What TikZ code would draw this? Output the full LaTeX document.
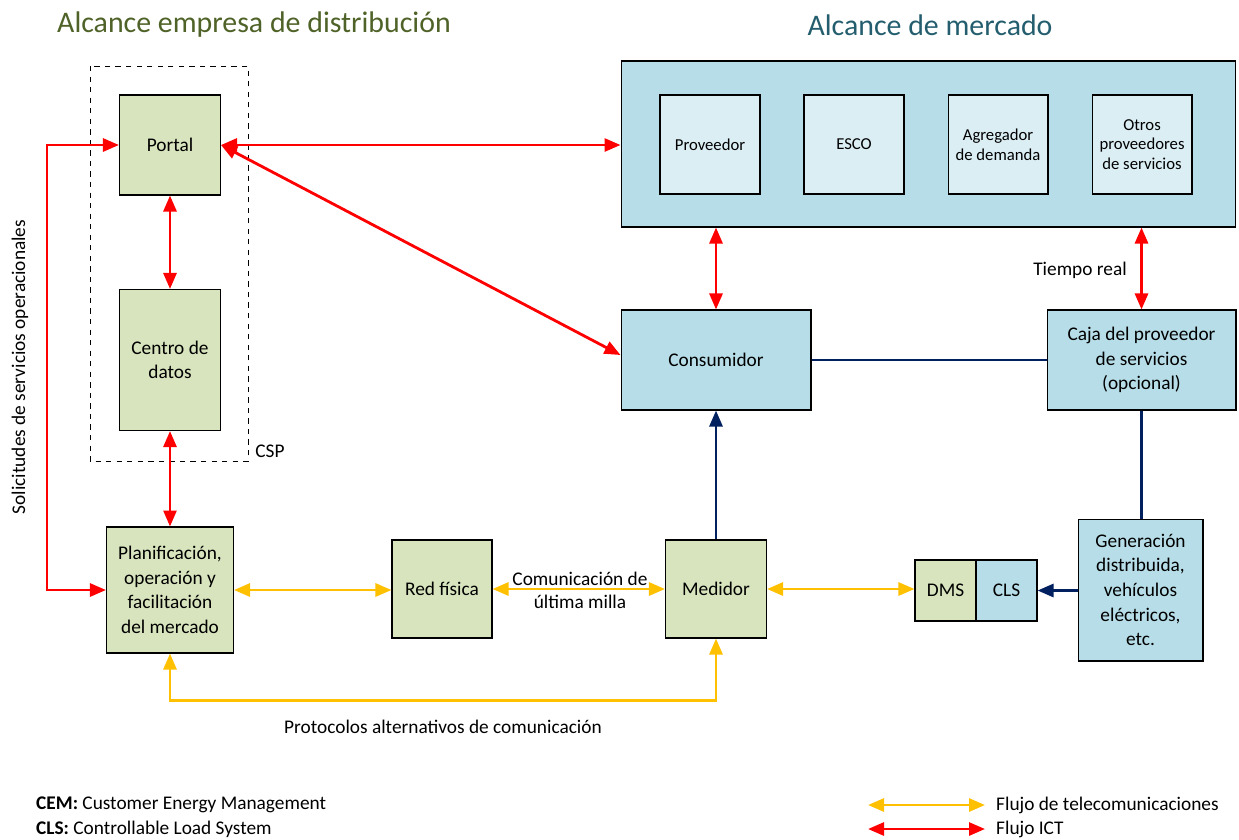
\documentclass[tikz,border=0pt]{standalone}
\usepackage{fontspec}
\setmainfont{Carlito}
\usetikzlibrary{arrows.meta}

\definecolor{boxgreen}{RGB}{215,228,189}
\definecolor{boxblue}{RGB}{183,222,232}
\definecolor{boxpale}{RGB}{219,238,244}
\definecolor{ictred}{RGB}{255,0,0}
\definecolor{teleyellow}{RGB}{255,192,0}
\definecolor{linknavy}{RGB}{0,32,96}
\definecolor{titleolive}{RGB}{79,98,40}
\definecolor{titleteal}{RGB}{36,94,110}

\begin{document}
\begin{tikzpicture}
	[x=0.02cm, y=-0.02cm,
	box/.style={draw=black, line width=0.6pt, align=center, inner sep=2pt,
		font=\fontsize{11}{14}\selectfont},
	green/.style={box, fill=boxgreen},
	blue/.style={box, fill=boxblue},
	pale/.style={box, fill=boxpale, font=\fontsize{9.5}{11.3}\selectfont},
	label/.style={align=center, font=\fontsize{11}{13}\selectfont},
	ict/.style={{Triangle[length=0.32cm,width=0.26cm]}-{Triangle[length=0.32cm,width=0.26cm]}, ictred, line width=1.6pt},
	tele/.style={{Triangle[length=0.32cm,width=0.26cm]}-{Triangle[length=0.32cm,width=0.26cm]}, teleyellow, line width=1.6pt},
	link/.style={linknavy, line width=1.6pt},
	title/.style={font=\fontsize{17}{20}\selectfont}]

	\useasboundingbox (0,0) rectangle (1239,839);

	% Titles
	\node[title, text=titleolive] (tdist) at (254,25) {Alcance empresa de distribución};
	\node[title, text=titleteal] (tmerc) at (930,25) {Alcance de mercado};

	% CSP frame
	\draw[dashed, line width=0.5pt] (90,66) rectangle (248,461);
	\node[label] (csp) at (270,451) {CSP};

	% Utility side
	\node[green, minimum width=2.02cm, minimum height=2.0cm] (Portal) at (170,145) {Portal};
	\node[green, minimum width=2.02cm, minimum height=2.82cm] (Centro) at (170,360) {Centro de\\datos};
	\node[green, minimum width=2.54cm, minimum height=2.52cm] (Plan) at (170,590)
		{Planificación,\\operación y\\facilitación\\del mercado};
	\node[green, minimum width=2.0cm, minimum height=1.96cm] (Red) at (442,589) {Red física};
	\node[green, minimum width=2.02cm, minimum height=1.96cm] (Medidor) at (716,589) {Medidor};

	% Market side
	\node[blue, minimum width=12.3cm, minimum height=3.32cm] (Mercado) at (928.5,144) {};
	\node[pale, minimum width=2.0cm, minimum height=1.98cm] (Proveedor) at (710,144.5) {Proveedor};
	\node[pale, minimum width=2.0cm, minimum height=1.98cm] (ESCO) at (854,144.5) {ESCO};
	\node[pale, minimum width=2.0cm, minimum height=1.98cm] (Agregador) at (998,144.5) {Agregador\\de demanda};
	\node[pale, minimum width=2.0cm, minimum height=1.98cm] (Otros) at (1142,144.5) {Otros\\proveedores\\de servicios};
	\node[blue, minimum width=3.8cm, minimum height=2.0cm] (Consumidor) at (716,360) {Consumidor};
	\node[blue, minimum width=3.78cm, minimum height=2.0cm] (Caja) at (1141.5,360)
		{Caja del proveedor\\de servicios\\(opcional)};
	\node[blue, minimum width=2.5cm, minimum height=2.84cm] (Generacion) at (1140.5,590)
		{Generación\\distribuida,\\vehículos\\eléctricos,\\etc.};
	\node[green, minimum width=1.22cm, minimum height=1.22cm] (DMS) at (945.5,590.5) {DMS};
	\node[blue, minimum width=1.22cm, minimum height=1.22cm] (CLS) at (1006.5,590.5) {CLS};

	% ICT flows
	\draw[ict] (Portal.east) -- (Portal.east -| Mercado.west);
	\draw[ict] (Portal.east) -- ([yshift=0.1cm]Consumidor.west);
	\draw[ict] (Portal.south) -- (Centro.north);
	\draw[ict] (Centro.south) -- (Plan.north);
	\draw[ict] (Portal.west) -- ++(-72,0) |- (Plan.west);
	\draw[ict] (Consumidor.north |- Mercado.south) -- (Consumidor.north);
	\draw[ict] (Caja.north |- Mercado.south) -- (Caja.north);
	\node[rotate=90, label] (solicitudes) at (20,367) {Solicitudes de servicios operacionales};
	\node[label] (tiempo) at (1080,270) {Tiempo real};

	% Telecom flows
	\draw[tele] (Plan.east) -- (Plan.east -| Red.west);
	\draw[tele] (Red.east) -- (Medidor.west);
	\draw[tele] (Medidor.east) -- (Medidor.east -| DMS.west);
	\draw[tele] (Plan.south) -- ++(0,47) -| (Medidor.south);
	\node[label] (ultima) at (580,590) {Comunicación de\\última milla};
	\node[label] (protocolos) at (443,727) {Protocolos alternativos de comunicación};

	% Customer links
	\draw[link] (Consumidor.east) -- (Caja.west);
	\draw[link] (Caja.south) -- (Caja.south |- Generacion.north);
	\draw[link, -{Triangle[length=0.32cm,width=0.26cm]}] (Generacion.west |- CLS.east) -- (CLS.east);
	\draw[link, -{Triangle[length=0.32cm,width=0.26cm]}] (Medidor.north) -- (Consumidor.south);

	% Legend
	\node[label, anchor=west] (cem) at (30,805) {\textbf{CEM:} Customer Energy Management};
	\node[label, anchor=west] (clsdef) at (30,829) {\textbf{CLS:} Controllable Load System};
	\coordinate (tele-a) at (868,805);
	\coordinate (tele-b) at (985,805);
	\coordinate (ict-a) at (868,829);
	\coordinate (ict-b) at (985,829);
	\draw[tele] (tele-a) -- (tele-b);
	\draw[ict] (ict-a) -- (ict-b);
	\node[label, anchor=west] (teletext) at (990,805) {Flujo de telecomunicaciones};
	\node[label, anchor=west] (icttext) at (990,829) {Flujo ICT};

\end{tikzpicture}
\end{document}
